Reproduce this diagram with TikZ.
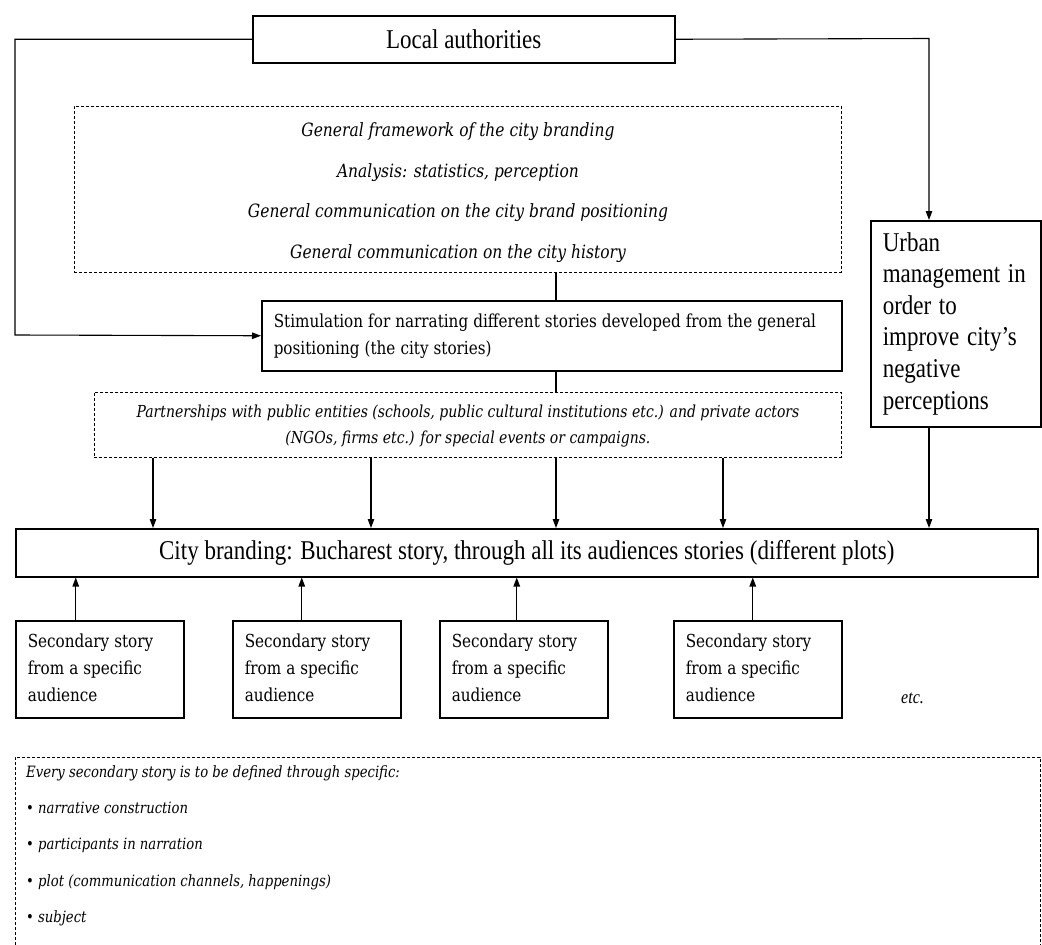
\documentclass[tikz,border=0pt]{standalone}
\usepackage{fontspec}
\usepackage{graphicx}
\setmainfont{Liberation Serif}
\newfontfamily\dvs{DejaVu Serif}
\usetikzlibrary{arrows.meta,calc}
\newcommand{\vst}[1]{\scalebox{1}[1.18]{#1}}
\newcommand{\ml}[2]{\vst{\begin{tabular}{@{}#1@{}}#2\end{tabular}}}
\begin{document}
\begin{tikzpicture}[x=1pt,y=-1pt,
  solidbox/.style={draw, line width=1.5pt, inner sep=0pt, anchor=north west},
  dashbox/.style={draw, line width=0.9pt, dash pattern=on 3pt off 2pt, inner sep=0pt, anchor=north west},
  link/.style={line width=1.1pt},
  arr/.style={line width=1.1pt, -{Triangle[length=9pt,width=6.5pt]}},
  bigtxt/.style={font=\fontsize{23}{26.8}\selectfont},
  slabtxt/.style={font=\dvs\fontsize{15.2}{22.9}\selectfont},
  itA/.style={font=\dvs\itshape\fontsize{15.5}{34.5}\selectfont},
  itB/.style={font=\dvs\itshape\fontsize{14}{22}\selectfont},
  itC/.style={font=\dvs\itshape\fontsize{13.2}{30.9}\selectfont},
  secbox/.style={solidbox, minimum height=97pt, text width=144pt, inner xsep=12pt, align=left, slabtxt}
]
\useasboundingbox (0,0) rectangle (1042,945);
\clip (0,0) rectangle (1042,945);
\fill[white] (0,0) rectangle (1042,945);

% nodes
\node[solidbox, minimum width=422pt, minimum height=47pt, bigtxt] (la) at (252,15) {\vst{Local authorities}};

\node[dashbox, minimum width=767pt, minimum height=166pt, itA] (gf) at (74,106)
  {\ml{c}{General framework of the city branding\\Analysis: statistics, perception\\General communication on the city brand positioning\\General communication on the city history}};

\node[solidbox, minimum height=70pt, text width=556pt, inner xsep=12pt, align=left, slabtxt] (st) at (261,300)
  {\ml{l}{Stimulation for narrating different stories developed from the general\\positioning (the city stories)}};

\node[dashbox, minimum width=747pt, minimum height=65pt, itB] (pp) at (94,392)
  {\ml{c}{Partnerships with public entities (schools, public cultural institutions etc.) and private actors\\(NGOs, firms etc.) for special events or campaigns.}};

\node[solidbox, minimum height=206pt, text width=146pt, inner xsep=12pt, align=left, bigtxt] (um) at (870,220)
  {\ml{l}{Urban\\management in\\order to\\improve city’s\\negative\\perceptions}};

\node[solidbox, minimum width=1022pt, minimum height=48pt, bigtxt] (city) at (15,528)
  {\vst{City branding: Bucharest story, through all its audiences stories (different plots)}};

\node[secbox] (s1) at (15,620) {\ml{l}{Secondary story\\from a specific\\audience}};
\node[secbox] (s2) at (232,620) {\ml{l}{Secondary story\\from a specific\\audience}};
\node[secbox] (s3) at (439,620) {\ml{l}{Secondary story\\from a specific\\audience}};
\node[secbox] (s4) at (673,620) {\ml{l}{Secondary story\\from a specific\\audience}};

\node[font=\itshape\fontsize{16}{19}\selectfont, inner sep=0pt, anchor=base west] (etc) at (901,703) {\vst{etc.}};

\node[dashbox, minimum width=1025pt, minimum height=220pt] (bot) at (15,757) {};
\node[itC, inner sep=0pt, anchor=base west] (bottxt) at (26,777)
  {\vst{\begin{tabular}[t]{@{}l@{}}Every secondary story is to be defined through specific:\\• narrative construction\\• participants in narration\\• plot (communication channels, happenings)\\• subject\end{tabular}}};

% helper coordinates
\coordinate (lcorner) at (15,335);
\coordinate (rc) at (929,38.5);
\coordinate (cx) at (556,0);
\coordinate (xa) at (153,0);
\coordinate (xb) at (371,0);
\coordinate (xd) at (723,0);

% connectors
\draw[arr] (la.west) -| (lcorner) -- (st.west);
\draw[arr] (la.east) -- (rc) -- (rc |- um.north);
\draw[link] (gf.south -| cx) -- (st.north -| cx);
\draw[link] (st.south -| cx) -- (pp.north -| cx);
\draw[arr] (pp.south -| xa) -- (city.north -| xa);
\draw[arr] (pp.south -| xb) -- (city.north -| xb);
\draw[arr] (pp.south -| cx) -- (city.north -| cx);
\draw[arr] (pp.south -| xd) -- (city.north -| xd);
\draw[arr] (um.south -| rc) -- (city.north -| rc);
\draw[arr] ([xshift=-24pt]s1.north) -- ([xshift=-24pt]s1.north |- city.south);
\draw[arr] ([xshift=-15pt]s2.north) -- ([xshift=-15pt]s2.north |- city.south);
\draw[arr] ([xshift=-7pt]s3.north) -- ([xshift=-7pt]s3.north |- city.south);
\draw[arr] ([xshift=-5pt]s4.north) -- ([xshift=-5pt]s4.north |- city.south);
\end{tikzpicture}
\end{document}
